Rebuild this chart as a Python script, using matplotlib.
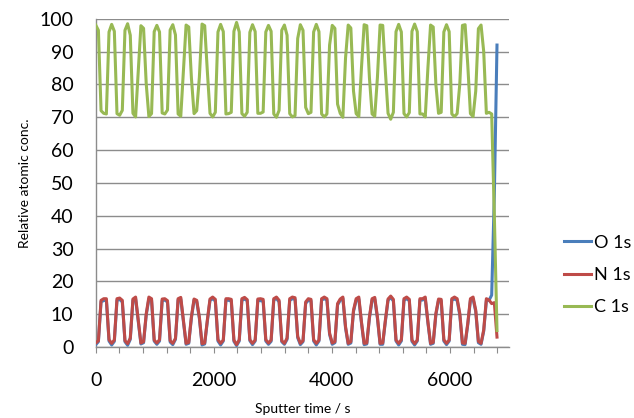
import matplotlib.pyplot as plt
import numpy as np

# Sputter times (s), one measurement every 45 s
sputter_time = np.arange(0, 6800, 45)

# Relative atomic concentrations read from the depth profile
c_1s = [98.1, 96.5, 72.0, 71.2, 71.0, 96.0, 98.3, 96.2, 71.1, 70.6,
        72.1, 96.5, 98.5, 95.0, 71.2, 70.1, 84.0, 97.9, 97.1, 80.2,
        70.2, 71.1, 96.1, 98.0, 96.0, 71.3, 71.0, 72.2, 96.6, 98.2,
        95.1, 71.0, 70.3, 84.1, 98.1, 97.5, 82.0, 71.1, 72.0, 82.2,
        98.4, 97.9, 84.0, 71.2, 70.1, 71.5, 96.0, 98.3, 96.1, 71.0,
        71.1, 71.5, 96.2, 98.9, 96.0, 71.1, 70.3, 71.5, 95.9, 98.2,
        96.1, 71.2, 71.2, 71.6, 96.0, 98.0, 96.2, 71.0, 70.0, 72.1,
        96.5, 98.1, 95.0, 71.1, 70.1, 70.5, 94.0, 98.2, 96.5, 73.0,
        71.1, 71.5, 96.0, 98.3, 96.1, 71.0, 70.1, 71.0, 92.0, 98.0,
        97.1, 74.0, 71.2, 70.0, 88.0, 98.1, 97.2, 78.0, 71.1, 70.2,
        85.1, 98.2, 97.9, 82.0, 71.0, 70.3, 82.1, 98.1, 98.0, 84.0,
        71.2, 69.4, 71.5, 96.1, 98.3, 96.0, 71.1, 70.1, 71.4, 96.2,
        98.4, 96.1, 71.0, 71.0, 70.1, 85.0, 98.1, 97.5, 80.0, 71.2,
        71.5, 96.0, 98.2, 96.1, 71.0, 70.2, 71.1, 80.1, 98.0, 98.2,
        86.0, 71.1, 70.2, 78.0, 97.0, 98.1, 90.0, 71.2, 71.5, 71.0,
        40.0, 5.0]

o_1s = [0.7, 1.6, 13.8, 14.1, 14.3, 1.8, 0.6, 1.7, 14.2, 14.5,
        13.7, 1.6, 0.5, 2.3, 14.2, 14.7, 7.8, 0.9, 1.3, 9.7,
        14.6, 14.2, 1.8, 0.8, 1.8, 14.1, 14.3, 13.7, 1.5, 0.7,
        2.3, 14.3, 14.6, 7.7, 0.8, 1.1, 8.8, 14.3, 13.8, 8.7,
        0.6, 0.9, 7.8, 14.2, 14.7, 14.0, 1.8, 0.6, 1.8, 14.3,
        14.2, 14.0, 1.7, 0.4, 1.8, 14.2, 14.6, 14.1, 1.9, 0.7,
        1.8, 14.2, 14.1, 13.9, 1.8, 0.8, 1.7, 14.3, 14.8, 13.7,
        1.6, 0.8, 2.3, 14.2, 14.7, 14.5, 2.8, 0.7, 1.6, 13.3,
        14.2, 14.0, 1.8, 0.6, 1.8, 14.3, 14.7, 14.3, 3.8, 0.8,
        1.3, 12.8, 14.2, 14.8, 5.8, 0.8, 1.2, 10.8, 14.2, 14.6,
        7.3, 0.7, 0.9, 8.8, 14.3, 14.6, 8.7, 0.8, 0.8, 7.8,
        14.2, 15.1, 14.0, 1.8, 0.6, 1.8, 14.2, 14.7, 14.1, 1.7,
        0.6, 1.8, 14.3, 14.3, 14.7, 7.3, 0.8, 1.1, 9.8, 14.2,
        14.0, 1.8, 0.7, 1.8, 14.3, 14.6, 14.2, 9.7, 0.8, 0.7,
        6.8, 14.2, 14.6, 10.8, 1.3, 0.8, 4.8, 14.1, 14.2, 15.8,
        46.5, 92.0]

n_1s = [1.2, 1.9, 14.2, 14.7, 14.7, 2.2, 1.1, 2.1, 14.7, 14.9,
        14.2, 1.9, 1.0, 2.7, 14.6, 15.2, 8.2, 1.2, 1.6, 10.1,
        15.2, 14.7, 2.1, 1.2, 2.2, 14.6, 14.7, 14.1, 1.9, 1.1,
        2.6, 14.7, 15.1, 8.2, 1.1, 1.4, 9.2, 14.6, 14.2, 9.1,
        1.0, 1.2, 8.2, 14.6, 15.2, 14.5, 2.2, 1.1, 2.1, 14.7,
        14.7, 14.5, 2.1, 0.7, 2.2, 14.7, 15.1, 14.4, 2.2, 1.1,
        2.1, 14.6, 14.7, 14.5, 2.2, 1.2, 2.1, 14.7, 15.2, 14.2,
        1.9, 1.1, 2.7, 14.7, 15.2, 15.0, 3.2, 1.1, 1.9, 13.7,
        14.7, 14.5, 2.2, 1.1, 2.1, 14.7, 15.2, 14.7, 4.2, 1.2,
        1.6, 13.2, 14.6, 15.2, 6.2, 1.1, 1.6, 11.2, 14.7, 15.2,
        7.6, 1.1, 1.2, 9.2, 14.7, 15.1, 9.2, 1.1, 1.2, 8.2,
        14.6, 15.5, 14.5, 2.1, 1.1, 2.2, 14.7, 15.2, 14.5, 2.1,
        1.0, 2.1, 14.7, 14.7, 15.2, 7.7, 1.1, 1.4, 10.2, 14.6,
        14.5, 2.2, 1.1, 2.1, 14.7, 15.2, 14.7, 10.2, 1.2, 1.1,
        7.2, 14.7, 15.2, 11.2, 1.7, 1.1, 5.2, 14.7, 14.3, 13.2,
        13.5, 3.0]

series_names = ['O 1s', 'N 1s', 'C 1s']
series_colors = ['#4A7EBB', '#BE4B48', '#98B954']

plt.rcParams['font.family'] = ['Lato', 'DejaVu Sans']

fig = plt.figure(figsize=(6.34, 4.18), dpi=100)
ax = fig.add_axes([0.151, 0.170, 0.652, 0.785])

for vals, name, col in zip([o_1s, n_1s, c_1s], series_names, series_colors):
    ax.plot(sputter_time, vals, color=col, lw=2.2, label=name, zorder=3)

ax.set_xlim(0, 7000)
ax.set_ylim(0, 100)
ax.set_yticks(np.arange(0, 101, 10))
xt = np.arange(0, 6801, 400)
ax.set_xticks(xt)
ax.set_xticklabels([str(v) if v % 2000 == 0 else '' for v in xt])

ax.grid(axis='y', color='#8C8C8C', lw=1.0, zorder=0)
for side in ['top', 'right']:
    ax.spines[side].set_visible(False)
for side in ['left', 'bottom']:
    ax.spines[side].set_color('#8C8C8C')
    ax.spines[side].set_linewidth(1.0)
ax.tick_params(axis='y', length=0, labelsize=14, pad=16)
ax.tick_params(axis='x', length=4, color='#8C8C8C', labelsize=14, pad=14)

ax.set_xlabel('Sputter time / s', fontsize=10, labelpad=10)
ax.set_ylabel('Relative atomic conc.', fontsize=10, labelpad=6)

ax.legend(loc='center left', bbox_to_anchor=(0.878, 0.342), bbox_transform=fig.transFigure,
          frameon=False, fontsize=13, handlelength=1.5, handletextpad=0.15,
          labelspacing=0.9, borderaxespad=0)

fig.savefig('out.png', dpi=100)
